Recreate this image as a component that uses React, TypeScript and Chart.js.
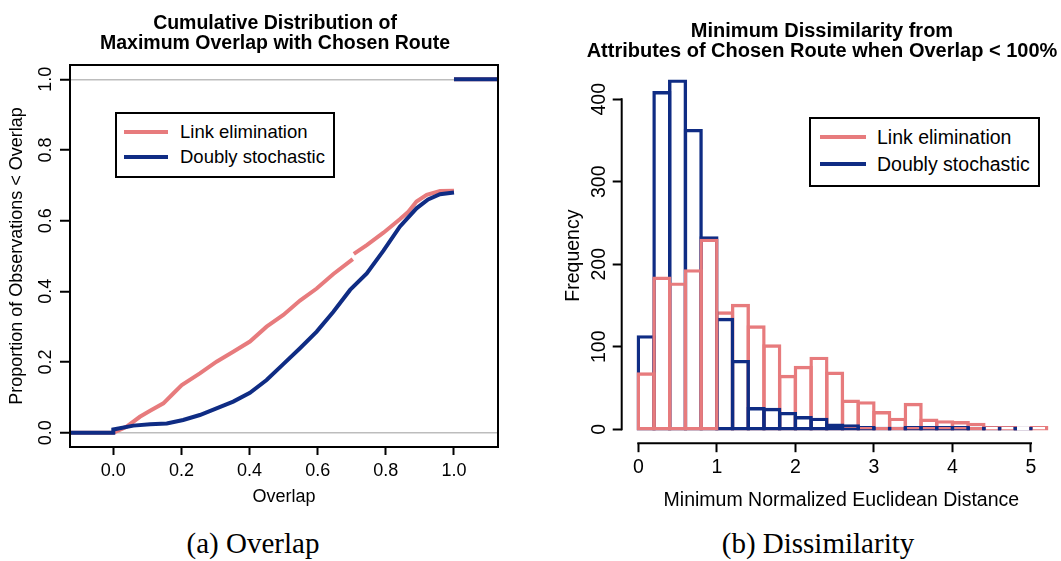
import React, { useEffect, useRef } from "react";
import { Chart, registerables } from "chart.js";

Chart.register(...registerables);

// ---------- Panel (a): cumulative distribution ----------
const overlapTicks = [0, 0.2, 0.4, 0.6, 0.8, 1.0];
const overlapTickLabels = ["0.0", "0.2", "0.4", "0.6", "0.8", "1.0"];
const proportionTicks = [0, 0.2, 0.4, 0.6, 0.8, 1.0];
const proportionTickLabels = ["0.0", "0.2", "0.4", "0.6", "0.8", "1.0"];

// Link elimination ECDF (null = break in the step function)
const linkX = [-0.127, 0, 0.039, 0.078, 0.108, 0.147, 0.176, 0.201, 0.254, 0.303, 0.352, 0.401, 0.45, 0.499, 0.548, 0.597, 0.646, 0.703, 0.7045, 0.706, 0.744, 0.793, 0.841, 0.866, 0.89, 0.92, 0.959, 1.0, 1.0, 1.0, 1.129];
const linkY = [0, 0, 0.017, 0.045, 0.062, 0.083, 0.111, 0.135, 0.168, 0.201, 0.229, 0.258, 0.3, 0.333, 0.374, 0.408, 0.449, 0.491, null, 0.506, 0.531, 0.566, 0.604, 0.625, 0.654, 0.673, 0.684, 0.685, null, 1.0, 1.0];

// Doubly stochastic ECDF
const doublyX = [-0.127, 0, 0, 0.059, 0.108, 0.157, 0.205, 0.254, 0.303, 0.352, 0.401, 0.45, 0.499, 0.548, 0.597, 0.646, 0.695, 0.744, 0.793, 0.841, 0.89, 0.924, 0.959, 1.0, 1.0, 1.0, 1.129];
const doublyY = [0, 0, 0.009, 0.02, 0.024, 0.026, 0.036, 0.05, 0.069, 0.088, 0.113, 0.149, 0.194, 0.239, 0.286, 0.342, 0.404, 0.451, 0.515, 0.583, 0.635, 0.66, 0.675, 0.68, null, 1.0, 1.0];

// ---------- Panel (b): histogram ----------
const distanceBinEdges = [0, 0.2, 0.4, 0.6, 0.8, 1.0, 1.2, 1.4, 1.6, 1.8, 2.0, 2.2, 2.4, 2.6, 2.8, 3.0, 3.2, 3.4, 3.6, 3.8, 4.0, 4.2, 4.4, 4.6, 4.8, 5.0, 5.2];
const linkCounts = [67, 183, 176, 192, 229, 141, 150, 124, 101, 64, 75, 86, 68, 34, 32, 20, 12, 30, 11, 9, 8, 6, 2, 2, 1, 2];
const doublyCounts = [112, 408, 422, 362, 232, 133, 82, 25, 24, 19, 14, 12, 5, 4, 2, 1, 1, 2, 2, 2, 2, 1, 1, 1, 1, null];
const distanceTicks = [0, 1, 2, 3, 4, 5];
const distanceTickLabels = ["0", "1", "2", "3", "4", "5"];
const frequencyTicks = [0, 100, 200, 300, 400];
const frequencyTickLabels = ["0", "100", "200", "300", "400"];

const legendLabels = ["Link elimination", "Doubly stochastic"];

const PINK = "#E77B7D";
const NAVY = "#0F2C84";
const SANS = "'Liberation Sans', Arial, Helvetica, sans-serif";
const SERIF = "'Liberation Serif', 'Times New Roman', serif";

const boxPlugin = {
  id: "rBox",
  afterDraw(chart: any) {
    const { ctx, chartArea } = chart;
    ctx.save();
    ctx.strokeStyle = "#000";
    ctx.lineWidth = 2;
    ctx.strokeRect(chartArea.left, chartArea.top, chartArea.right - chartArea.left, chartArea.bottom - chartArea.top);
    ctx.restore();
  },
};

const rAxisPlugin = {
  id: "rAxes",
  afterDraw(chart: any) {
    const { ctx, chartArea, scales } = chart;
    const x = scales.x;
    const y = scales.y;
    ctx.save();
    ctx.strokeStyle = "#000";
    ctx.lineWidth = 2;
    ctx.lineCap = "butt";
    ctx.beginPath();
    const yt = y.ticks;
    ctx.moveTo(chartArea.left, y.getPixelForValue(yt[0].value) + 1);
    ctx.lineTo(chartArea.left, y.getPixelForValue(yt[yt.length - 1].value) - 1);
    const xt = x.ticks;
    ctx.moveTo(x.getPixelForValue(xt[0].value) - 1, chartArea.bottom);
    ctx.lineTo(x.getPixelForValue(xt[xt.length - 1].value) + 1, chartArea.bottom);
    ctx.stroke();
    ctx.restore();
  },
};

function leftConfig(): any {
  const lineDs = (label: string, xs: number[], ys: (number | null)[], color: string) => ({
    label,
    data: xs.map((x, i) => ({ x, y: ys[i] })),
    borderColor: color,
    backgroundColor: color,
    borderWidth: 4,
    pointRadius: 0,
    tension: 0,
    spanGaps: false,
    fill: false,
    borderCapStyle: "butt",
  });
  const font = { family: SANS, size: 18 };
  return {
    type: "line",
    data: {
      datasets: [
        lineDs(legendLabels[1], doublyX, doublyY, NAVY),
        lineDs(legendLabels[0], linkX, linkY, PINK),
      ],
    },
    options: {
      responsive: false,
      animation: false,
      events: [],
      layout: { padding: { left: 0, top: 65, right: 22, bottom: 0 } },
      plugins: { legend: { display: false }, tooltip: { enabled: false }, title: { display: false } },
      scales: {
        x: {
          type: "linear",
          min: -0.1271,
          max: 1.1292,
          afterBuildTicks: (s: any) => { s.ticks = overlapTicks.map((v) => ({ value: v })); },
          afterFit: (s: any) => { s.height = 73; },
          ticks: { font, color: "#000", padding: 5, maxRotation: 0, autoSkip: false, callback: (_v: any, i: number) => overlapTickLabels[i] },
          grid: { drawOnChartArea: false, drawTicks: true, tickLength: 8, tickColor: "#000", tickWidth: 2 },
          border: { display: false },
          title: { display: true, text: "Overlap", font, color: "#000", padding: { top: 0, bottom: 12 } },
        },
        y: {
          type: "linear",
          min: -0.0405,
          max: 1.0405,
          afterBuildTicks: (s: any) => { s.ticks = proportionTicks.map((v) => ({ value: v })); },
          afterFit: (s: any) => { s.width = 70; },
          ticks: { font, color: "#000", padding: 1, minRotation: 90, maxRotation: 90, crossAlign: "center", autoSkip: false, callback: (_v: any, i: number) => proportionTickLabels[i] },
          grid: {
            drawOnChartArea: true,
            color: (c: any) => (c.tick && (c.tick.value === 0 || c.tick.value === 1) ? "#BDBDBD" : "rgba(0,0,0,0)"),
            lineWidth: 1.5,
            drawTicks: true,
            tickLength: 10,
            tickColor: "#000",
            tickWidth: 2,
          },
          border: { display: false },
          title: { display: true, text: "Proportion of Observations < Overlap", font, color: "#000", padding: { top: 6, bottom: 0 } },
        },
      },
    },
    plugins: [boxPlugin],
  };
}

function rightConfig(): any {
  const centers = distanceBinEdges.slice(0, -1).map((e, i) => (e + distanceBinEdges[i + 1]) / 2);
  const barDs = (label: string, counts: (number | null)[], color: string, keep: (c: number) => boolean) => ({
    label,
    data: centers.map((c, i) => ({ x: c, y: keep(c) ? counts[i] : null })),
    backgroundColor: "rgba(0,0,0,0)",
    borderColor: color,
    borderWidth: 0.01,
    borderSkipped: false,
    inflateAmount: 1.7,
    grouped: false,
    barPercentage: 1,
    categoryPercentage: 1,
  });
  const font = { family: SANS, size: 19.5 };
  return {
    type: "bar",
    data: {
      datasets: [
        barDs(legendLabels[0], linkCounts, PINK, (c) => c < 1),
        barDs(legendLabels[1], doublyCounts, NAVY, () => true),
        barDs(legendLabels[0], linkCounts, PINK, (c) => c > 1),
      ],
    },
    options: {
      responsive: false,
      animation: false,
      events: [],
      layout: { padding: { left: 0, top: 68, right: 0, bottom: 0 } },
      plugins: { legend: { display: false }, tooltip: { enabled: false }, title: { display: false } },
      scales: {
        x: {
          type: "linear",
          offset: false,
          min: -0.2114,
          max: 5.382,
          afterBuildTicks: (s: any) => { s.ticks = distanceTicks.map((v) => ({ value: v })); },
          afterFit: (s: any) => { s.height = 76.8; },
          ticks: { font, color: "#000", padding: 4, maxRotation: 0, autoSkip: false, callback: (_v: any, i: number) => distanceTickLabels[i] },
          grid: { drawOnChartArea: false, drawTicks: true, tickLength: 9, tickColor: "#000", tickWidth: 2, offset: false },
          border: { display: false },
          title: { display: true, text: "Minimum Normalized Euclidean Distance", font, color: "#000", padding: { top: 0, bottom: 8 } },
        },
        y: {
          type: "linear",
          min: -16.85,
          max: 437.9,
          afterBuildTicks: (s: any) => { s.ticks = frequencyTicks.map((v) => ({ value: v })); },
          afterFit: (s: any) => { s.width = 91.7; },
          ticks: { font, color: "#000", padding: -3, minRotation: 90, maxRotation: 90, crossAlign: "center", autoSkip: false, callback: (_v: any, i: number) => frequencyTickLabels[i] },
          grid: { drawOnChartArea: false, drawTicks: true, tickLength: 9, tickColor: "#000", tickWidth: 2 },
          border: { display: false },
          title: { display: true, text: "Frequency", font, color: "#000", padding: { top: 32, bottom: 0 } },
        },
      },
    },
    plugins: [rAxisPlugin],
  };
}

type LegendProps = {
  left: number; top: number; width: number; height: number;
  lineX0: number; lineX1: number; rowsY: number[]; textX: number; fontSize: number;
};

function RLegend(p: LegendProps) {
  const colors = [PINK, NAVY];
  return (
    <div style={{ position: "absolute", left: p.left, top: p.top, width: p.width, height: p.height, boxSizing: "border-box", border: "2px solid #000", background: "#fff" }}>
      {legendLabels.map((lab, i) => (
        <React.Fragment key={lab}>
          <div style={{ position: "absolute", left: p.lineX0 - 2, top: p.rowsY[i] - 2 - 2, width: p.lineX1 - p.lineX0, height: 4, background: colors[i] }} />
          <div style={{ position: "absolute", left: p.textX - 2, top: p.rowsY[i] - 2 - 12, height: 24, lineHeight: "24px", fontFamily: SANS, fontSize: p.fontSize, color: "#000", whiteSpace: "nowrap" }}>{lab}</div>
        </React.Fragment>
      ))}
    </div>
  );
}

export default function App() {
  const leftRef = useRef<HTMLCanvasElement>(null);
  const rightRef = useRef<HTMLCanvasElement>(null);

  useEffect(() => {
    const prev = document.body.style.margin;
    document.body.style.margin = "0";
    const c1 = new Chart(leftRef.current as HTMLCanvasElement, leftConfig());
    const c2 = new Chart(rightRef.current as HTMLCanvasElement, rightConfig());
    return () => {
      c1.destroy();
      c2.destroy();
      document.body.style.margin = prev;
    };
  }, []);

  const titleStyle = (left: number, top: number, size: number): React.CSSProperties => ({
    position: "absolute", left, top, width: 520, textAlign: "center", fontFamily: SANS, fontWeight: "bold",
    fontSize: size, lineHeight: "20px", color: "#000", whiteSpace: "nowrap",
  });
  const captionStyle = (cx: number): React.CSSProperties => ({
    position: "absolute", left: cx - 200, top: 528, width: 400, textAlign: "center", fontFamily: SERIF,
    fontSize: 29, lineHeight: "30px", color: "#000", whiteSpace: "nowrap",
  });

  return (
    <div style={{ position: "relative", width: 1061, height: 561, overflow: "hidden", background: "#fff" }}>
      <canvas ref={leftRef} width={520} height={520} style={{ position: "absolute", left: 0, top: 0, display: "block" }} />
      <canvas ref={rightRef} width={531} height={520} style={{ position: "absolute", left: 530, top: 0, display: "block" }} />

      <div style={titleStyle(275 - 260, 12, 19.5)}>
        <div>Cumulative Distribution of</div>
        <div>Maximum Overlap with Chosen Route</div>
      </div>
      <div style={titleStyle(822 - 260, 20, 20)}>
        <div>Minimum Dissimilarity from</div>
        <div>Attributes of Chosen Route when Overlap &lt; 100%</div>
      </div>

      <RLegend left={115} top={112} width={220} height={66} lineX0={124 - 115} lineX1={168 - 115} rowsY={[131.7 - 112, 157.3 - 112]} textX={180 - 115} fontSize={18.5} />
      <RLegend left={809} top={117} width={231} height={70} lineX0={820 - 809} lineX1={866 - 809} rowsY={[136.7 - 117, 164 - 117]} textX={877 - 809} fontSize={19.5} />

      <div style={captionStyle(253)}>(a) Overlap</div>
      <div style={captionStyle(818)}>(b) Dissimilarity</div>
    </div>
  );
}
